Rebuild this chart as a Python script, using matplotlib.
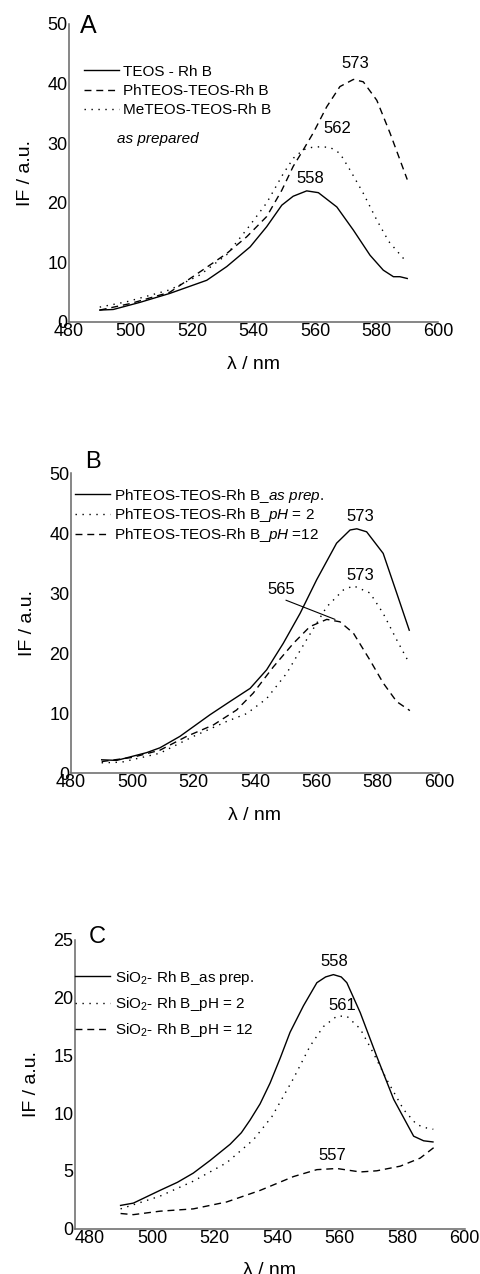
import numpy as np
import matplotlib
matplotlib.use("Agg")
import matplotlib.pyplot as plt

plt.rcParams['font.family'] = ['Liberation Sans', 'DejaVu Sans']
plt.rcParams['mathtext.fontset'] = 'custom'
plt.rcParams['mathtext.rm'] = 'Liberation Sans'
plt.rcParams['mathtext.it'] = 'Liberation Sans:italic'
plt.rcParams['mathtext.default'] = 'regular'

# panel A - as prepared
a_teos_x = [490, 494.4, 503.1, 512.8, 524.8, 531.3, 538.9, 544.3, 549.2, 552.9, 557.3, 561.1, 567.1, 572.5, 577.9, 582.2, 585.5, 587.6, 590]
a_teos_y = [2.0, 2.1, 3.3, 4.8, 7.0, 9.3, 12.6, 16.0, 19.6, 21.1, 22.0, 21.7, 19.3, 15.4, 11.2, 8.7, 7.6, 7.6, 7.3]
a_ph_x = [490, 500, 512.8, 523.7, 531.3, 537.8, 544.3, 549.2, 552.9, 556.2, 559.4, 563.8, 568.1, 572.5, 575.7, 580.1, 584.4, 590]
a_ph_y = [2.0, 3.1, 5.0, 8.8, 11.5, 14.3, 17.7, 22.1, 26.1, 28.9, 31.7, 36.1, 39.5, 40.7, 40.3, 37.2, 31.7, 23.9]
a_me_x = [490, 498.8, 512.8, 522.6, 531.3, 538.5, 544.3, 549.7, 553, 556.2, 559, 561.6, 564.9, 568.1, 571.4, 575.7, 580.1, 584, 588.7, 590]
a_me_y = [2.5, 3.4, 5.4, 7.9, 11.3, 16.0, 20.0, 24.9, 27.5, 28.9, 29.3, 29.4, 29.3, 28.3, 25.5, 21.6, 17.1, 13.5, 10.7, 10.3]
a_labels = ['TEOS - Rh B', 'PhTEOS-TEOS-Rh B', 'MeTEOS-TEOS-Rh B']
a_peaks = [('558', 558.4, 24.0), ('562', 567.1, 32.5), ('573', 573.0, 43.4)]

# panel B - PhTEOS-TEOS
b_prep_x = [490, 494.9, 504.7, 509, 515.5, 525.3, 531.8, 538.4, 543.8, 549.2, 554.7, 560.1, 566.6, 571, 573.2, 576.4, 581.8, 586.2, 590.3]
b_prep_y = [2.2, 2.1, 3.4, 4.2, 6.1, 9.7, 11.9, 14.1, 17.2, 21.6, 26.6, 32.2, 38.3, 40.5, 40.7, 40.2, 36.6, 30.0, 23.8]
b_ph2_x = [490, 496.5, 509, 519.9, 530.8, 537.3, 543.8, 550.3, 556.8, 563.4, 568.8, 572.1, 577.5, 581.8, 586.2, 590]
b_ph2_y = [1.7, 1.8, 3.3, 6.1, 8.6, 9.9, 12.4, 16.6, 22.2, 27.7, 30.5, 31.2, 30.0, 26.6, 22.2, 18.6]
b_ph12_x = [490, 500, 509, 517.7, 526.4, 534, 539.4, 546, 552.5, 557.9, 563.4, 567.7, 572.1, 577.5, 581.8, 586.2, 590.5]
b_ph12_y = [1.9, 2.6, 3.8, 6.1, 8.0, 10.5, 13.3, 17.7, 21.6, 24.4, 25.6, 25.2, 23.3, 18.8, 15.0, 11.9, 10.4]
b_labels = [r'PhTEOS-TEOS-Rh B_$\mathit{as\ prep.}$',
            r'PhTEOS-TEOS-Rh B_$\mathit{pH}$ = 2',
            r'PhTEOS-TEOS-Rh B_$\mathit{pH}$ =12']
b_peaks = [('573', 574.2, 42.7), ('573', 574.2, 33.0)]

# panel C - SiO2
c_prep_x = [489.8, 493.9, 502.4, 508, 513.1, 518.5, 524.9, 528.5, 531.3, 534.5, 537.7, 541, 544.1, 548.4, 552.7, 555.5, 558, 560.5, 562.3, 566.6, 571.9, 577.3, 583.7, 586.9, 589.9]
c_prep_y = [2.0, 2.2, 3.3, 4.0, 4.8, 5.9, 7.3, 8.3, 9.4, 10.8, 12.6, 14.8, 17.0, 19.3, 21.3, 21.8, 22.0, 21.8, 21.3, 18.7, 14.9, 11.2, 8.0, 7.6, 7.5]
c_ph2_x = [489.8, 502.4, 513.1, 523.8, 532.4, 538.3, 545.2, 550.5, 554.8, 559.1, 562.3, 566.6, 570.8, 575.1, 580.5, 584.7, 588, 590]
c_ph2_y = [1.7, 2.8, 4.1, 5.7, 7.7, 9.7, 13.0, 15.8, 17.5, 18.4, 18.4, 17.3, 15.2, 12.9, 10.3, 9.0, 8.7, 8.6]
c_ph12_x = [489.8, 493.9, 502.4, 513.1, 523.8, 534.5, 545.2, 552.7, 559.1, 566.6, 571.9, 579.4, 585.8, 590.1]
c_ph12_y = [1.3, 1.2, 1.5, 1.7, 2.3, 3.3, 4.5, 5.1, 5.2, 4.9, 5.0, 5.4, 6.1, 7.0]
c_labels = [r'SiO$_2$- Rh B_as prep.', r'SiO$_2$- Rh B_pH = 2', r'SiO$_2$- Rh B_pH = 12']
c_peaks = [('558', 558.3, 23.1), ('561', 560.7, 19.3), ('557', 557.5, 6.3)]

x_ticks = [480, 500, 520, 540, 560, 580, 600]

W, H = 481, 1274
SOLID = dict(color='black', lw=1.0, linestyle='-')
DASH = dict(color='black', lw=1.0, linestyle=(0, (5, 3.5)))
DOT = dict(color='black', lw=1.0, linestyle=(0, (1, 4)))


def box(l, r, t, b):
    return [l / W, 1 - b / H, (r - l) / W, (b - t) / H]


def style_axes(ax, xlim, ylim, yticks, letter, lx, ly, lsize):
    ax.set_xlim(*xlim)
    ax.set_ylim(*ylim)
    ax.set_xticks(x_ticks)
    ax.set_yticks(yticks)
    for s in ['top', 'right']:
        ax.spines[s].set_visible(False)
    for s in ['left', 'bottom']:
        ax.spines[s].set_color('#666666')
        ax.spines[s].set_linewidth(1.1)
    ax.tick_params(length=0, labelsize=13, pad=1)
    ax.set_xlabel('λ / nm', fontsize=14, labelpad=11)
    ax.set_ylabel('IF / a.u.', fontsize=14, labelpad=10)
    ax.text(lx, ly, letter, transform=ax.transAxes, fontsize=lsize,
            ha='left', va='center')


fig = plt.figure(figsize=(W / 100, H / 100), dpi=100)

# A
ax = fig.add_axes(box(69, 438, 24, 322))
ax.plot(a_teos_x, a_teos_y, label=a_labels[0], **SOLID)
ax.plot(a_ph_x, a_ph_y, label=a_labels[1], **DASH)
ax.plot(a_me_x, a_me_y, label=a_labels[2], **DOT)
style_axes(ax, (480, 600), (0, 50), [0, 10, 20, 30, 40, 50], 'A', 0.03, 0.994, 18)
ax.legend(loc='upper left', bbox_to_anchor=(0.04, 0.863), frameon=False,
          fontsize=11, handlelength=2.3, handletextpad=0.25,
          labelspacing=0.33, borderpad=0, borderaxespad=0)
ax.text(0.13, 0.615, 'as prepared', transform=ax.transAxes, fontsize=11,
        style='italic', ha='left', va='center')
for t, x, y in a_peaks:
    ax.text(x, y, t, fontsize=12, ha='center', va='center')

# B
ax = fig.add_axes(box(71, 439, 473, 773))
ax.plot(b_prep_x, b_prep_y, label=b_labels[0], **SOLID)
ax.plot(b_ph2_x, b_ph2_y, label=b_labels[1], **DOT)
ax.plot(b_ph12_x, b_ph12_y, label=b_labels[2], **DASH)
style_axes(ax, (480, 600), (0, 50), [0, 10, 20, 30, 40, 50], 'B', 0.038, 1.038, 17)
ax.legend(loc='upper left', bbox_to_anchor=(0.01, 0.955), frameon=False,
          fontsize=11, handlelength=2.3, handletextpad=0.25,
          labelspacing=0.12, borderpad=0, borderaxespad=0)
for t, x, y in b_peaks:
    ax.text(x, y, t, fontsize=12, ha='center', va='center')
ax.annotate('565', xy=(566.1, 25.6), xytext=(548.7, 30.6), fontsize=12,
            ha='center', va='center',
            arrowprops=dict(arrowstyle='-', color='black', lw=0.8,
                            shrinkA=1, shrinkB=0, relpos=(0.35, 0.0)))

# C
ax = fig.add_axes(box(75, 464.5, 940, 1228.5))
ax.plot(c_prep_x, c_prep_y, label=c_labels[0], **SOLID)
ax.plot(c_ph2_x, c_ph2_y, label=c_labels[1], **DOT)
ax.plot(c_ph12_x, c_ph12_y, label=c_labels[2], **DASH)
style_axes(ax, (475.2, 600), (0, 25), [0, 5, 10, 15, 20, 25], 'C', 0.036, 1.009, 17)
ax.legend(loc='upper left', bbox_to_anchor=(0.0, 0.901), frameon=False,
          fontsize=11, handlelength=2.3, handletextpad=0.3,
          labelspacing=0.55, borderpad=0, borderaxespad=0)
for t, x, y in c_peaks:
    ax.text(x, y, t, fontsize=12, ha='center', va='center')

fig.savefig('out.png', dpi=100)
